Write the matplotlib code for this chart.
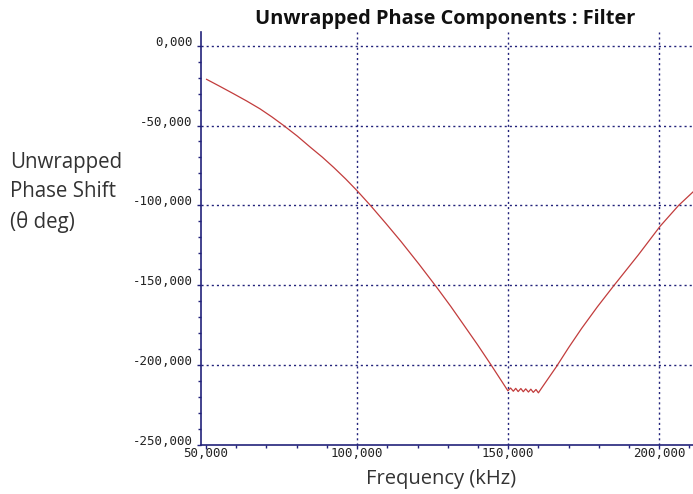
import numpy as np
import matplotlib
matplotlib.use("Agg")
import matplotlib.pyplot as plt
from matplotlib.ticker import FixedLocator, MultipleLocator, FuncFormatter

# frequency in kHz, unwrapped phase in degrees
freq_khz = [50.2, 54.5, 59.1, 63.5, 67.9, 71.8, 75.7, 80.2, 84.6, 88.5, 92.3,
            96.2, 100.1, 104.5, 109.5, 114.5, 120.5, 126.6,
            131.0, 135.0, 139.8, 144.4, 149.9,
            150.8, 151.7, 152.5, 153.3, 154.2, 155.0, 155.8, 156.7, 157.5,
            158.3, 159.2, 160.0,
            161.0, 166.0, 170.0, 174.3, 179.5, 184.8, 193.1, 200.3, 206.4, 211.6]
phase_deg = [-21.1, -25.4, -30.1, -34.7, -39.6, -44.6, -50.0, -56.6, -63.7, -69.8, -76.3,
             -83.4, -91.0, -100.2, -111.2, -122.5, -136.8, -151.9,
             -163.2, -174.0, -187.0, -200.0, -216.0,
             -214.3, -216.3, -214.5, -216.5, -214.6, -216.6, -214.8, -216.8, -215.0,
             -217.0, -215.2, -217.3,
             -214.5, -200.8, -189.0, -177.0, -163.5, -150.6, -130.9, -113.0, -100.0, -90.8]

x_major = [50, 100, 150, 200]
y_major = [0, -50, -100, -150, -200, -250]

navy = "#22227a"
text_col = "#333333"

fig = plt.figure(figsize=(6.93, 4.94), dpi=100)
ax = fig.add_axes([0.290, 0.099, 0.712, 0.836])

ax.plot(freq_khz, phase_deg, color="#c23c3c", lw=0.9)

ax.set_xlim(48.34, 211.62)
ax.set_ylim(-250, 8.45)

ax.xaxis.set_major_locator(FixedLocator(x_major))
ax.yaxis.set_major_locator(FixedLocator(y_major))
ax.xaxis.set_minor_locator(MultipleLocator(10))
ax.yaxis.set_minor_locator(MultipleLocator(10))
fmt = FuncFormatter(lambda v, p: f"{v:.3f}".replace(".", ","))
ax.xaxis.set_major_formatter(fmt)
ax.yaxis.set_major_formatter(fmt)

for side in ["top", "right"]:
    ax.spines[side].set_visible(False)
for side in ["left", "bottom"]:
    ax.spines[side].set_color(navy)
    ax.spines[side].set_linewidth(1.2)

ax.tick_params(which="both", direction="out", color=navy, width=1.0)
ax.tick_params(which="major", length=3.2)
ax.tick_params(which="minor", length=2.5)
ax.tick_params(axis="x", pad=-2.0)
ax.tick_params(axis="y", pad=2.7)
for lbl in ax.get_xticklabels() + ax.get_yticklabels():
    lbl.set_family("DejaVu Sans Mono")
    lbl.set_fontsize(9.0)
    lbl.set_color("#222222")
for lbl in ax.get_yticklabels():
    lbl.set_va("baseline")

# dotted grid, skipping the lines that sit on the axes
for xv in x_major[1:]:
    ax.axvline(xv, color=navy, ls=(0, (1.5, 2.2)), lw=1.0, zorder=0)
for yv in y_major[:-1]:
    ax.axhline(yv, color=navy, ls=(0, (1.5, 2.2)), lw=1.0, zorder=0)

fig.text(0.642, 0.962, "Unwrapped Phase Components : Filter", ha="center", va="center",
         family="Open Sans", weight="bold", fontsize=14.4, color="#111111")
fig.text(0.636, 0.031, "Frequency (kHz)", ha="center", va="center",
         family="Open Sans", fontsize=14.5, color=text_col)
fig.text(0.014, 0.610, "Unwrapped\nPhase Shift\n(\u03b8 deg)", ha="left", va="center",
         family="Open Sans", fontsize=14.8, color=text_col, linespacing=1.5)

fig.savefig("out.png", dpi=100)
